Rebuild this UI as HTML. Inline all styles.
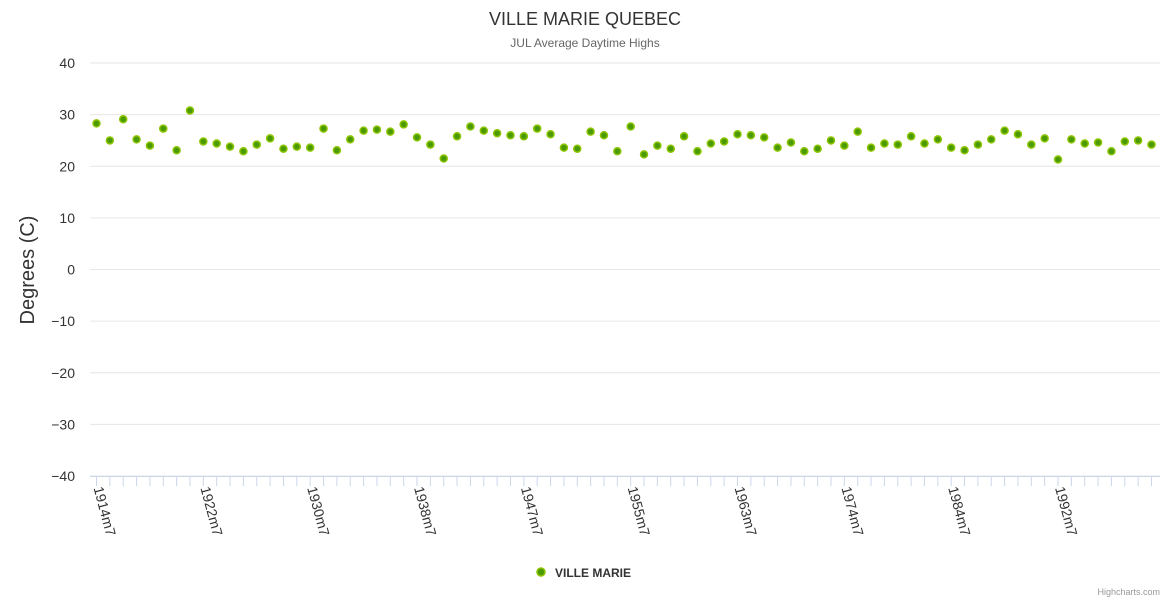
<!DOCTYPE html>
<html><head><meta charset="utf-8">
<style>
html,body{margin:0;padding:0;background:#fff;}
svg{display:block;font-family:"Liberation Sans",sans-serif;}
</style></head>
<body>
<svg id="chart" width="1170" height="600" xmlns="http://www.w3.org/2000/svg">
<text x="585" y="25" text-anchor="middle" font-size="18" fill="#333">VILLE MARIE QUEBEC</text>
<text x="585" y="47" text-anchor="middle" font-size="12" fill="#666">JUL Average Daytime Highs</text>
<text transform="translate(34,270) rotate(-90)" text-anchor="middle" font-size="20" fill="#333">Degrees (C)</text>
<g id="grid"></g>
<g id="xaxis"></g>
<g id="yaxis"></g>
<g id="points"></g>
<g>
<circle cx="541" cy="572" r="4" fill="#4a9a00" stroke="#8cc400" stroke-width="1.5"/>
<text x="555" y="577" font-size="12" font-weight="bold" fill="#333">VILLE MARIE</text>
</g>
<text x="1160" y="595" text-anchor="end" font-size="9" fill="#999">Highcharts.com</text>
</svg>
<script>
const categories = ["1914m7","1915m7","1916m7","1917m7","1918m7","1919m7","1920m7","1921m7",
"1922m7","1923m7","1924m7","1925m7","1926m7","1927m7","1928m7","1929m7",
"1930m7","1931m7","1932m7","1933m7","1934m7","1935m7","1936m7","1937m7",
"1938m7","1939m7","1940m7","1941m7","1942m7","1943m7","1944m7","1946m7",
"1947m7","1948m7","1949m7","1950m7","1951m7","1952m7","1953m7","1954m7",
"1955m7","1956m7","1957m7","1958m7","1959m7","1960m7","1961m7","1962m7",
"1963m7","1964m7","1965m7","1966m7","1967m7","1968m7","1970m7","1972m7",
"1974m7","1975m7","1976m7","1977m7","1978m7","1980m7","1981m7","1982m7",
"1984m7","1985m7","1986m7","1987m7","1988m7","1989m7","1990m7","1991m7",
"1992m7","1993m7","1994m7","1995m7","1996m7","1997m7","1998m7","1999m7"];
const temps = [28.3,25.0,29.1,25.2,24.0,27.3,23.1,30.8,24.8,24.4,23.8,22.9,24.2,25.4,23.4,23.8,
23.6,27.3,23.1,25.2,26.9,27.1,26.7,28.1,25.6,24.2,21.5,25.8,27.7,26.9,26.4,26.0,
25.8,27.3,26.2,23.6,23.4,26.7,26.0,22.9,27.7,22.3,24.0,23.4,25.8,22.9,24.4,24.8,
26.2,26.0,25.6,23.6,24.6,22.9,23.4,25.0,24.0,26.7,23.6,24.4,24.2,25.8,24.4,25.2,
23.6,23.1,24.2,25.2,26.9,26.2,24.2,25.4,21.3,25.2,24.4,24.6,22.9,24.8,25.0,24.2];
const yTicks = [40,30,20,10,0,-10,-20,-30,-40];
const labelEvery = 8;

const NS="http://www.w3.org/2000/svg";
const L=90,R=1160,T=63,B=476,X0=96.5,X1=1151.5;
const x=i=>X0+i*(X1-X0)/(categories.length-1);
const y=v=>B-(v+40)/80*(B-T);
function mk(tag,attrs,parent){const e=document.createElementNS(NS,tag);for(const k in attrs)e.setAttribute(k,attrs[k]);parent.appendChild(e);return e;}
const grid=document.getElementById('grid'),ya=document.getElementById('yaxis'),xa=document.getElementById('xaxis'),pts=document.getElementById('points');
yTicks.forEach(v=>{
  const ln=mk('line',{x1:L,x2:R,y1:y(v),y2:y(v),stroke:'#e6e6e6','stroke-width':1},grid);
  
  
  const t=mk('text',{x:75,y:y(v)+5,'text-anchor':'end','font-size':14,fill:'#333'},ya);
  
  
  t.textContent=v<0?'\u2212'+Math.abs(v):String(v);
});
const axl=mk('line',{x1:L,x2:R,y1:B+0.5,y2:B+0.5,stroke:'#ccd6eb','stroke-width':1},xa);


categories.forEach((c,i)=>{
  const tk=mk('line',{x1:x(i),x2:x(i),y1:B,y2:B+10,stroke:'#ccd6eb','stroke-width':1},xa);
  
  
  if(i%labelEvery===0){
    const t=mk('text',{transform:`translate(${x(i)-3},${B+12}) rotate(75)`,'font-size':14,fill:'#333'},xa);
    
    
    t.textContent=c;
  }
});
temps.forEach((v,i)=>{
  const p=mk('circle',{cx:x(i),cy:y(v),r:3.5,fill:'#4a9a00',stroke:'#8cc400','stroke-width':1.5},pts);
  
  
});
</script>
</body></html>
